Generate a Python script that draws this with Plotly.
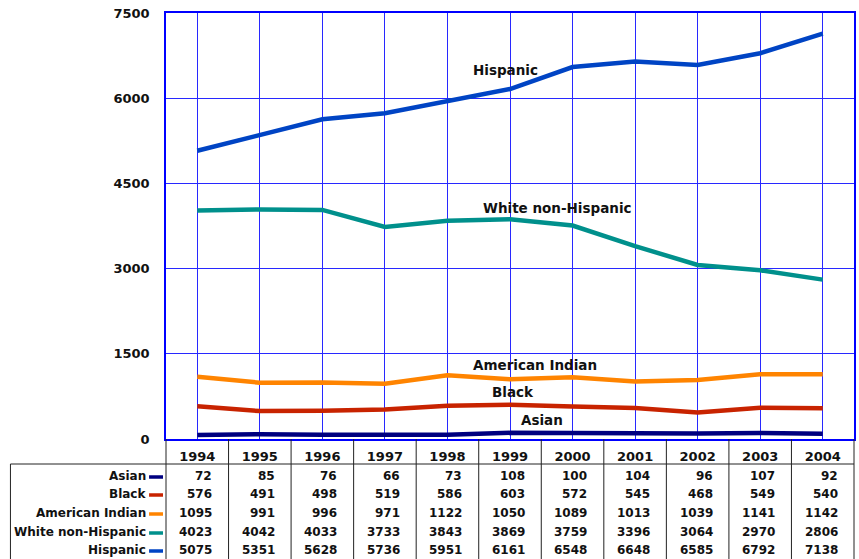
import plotly.graph_objects as go

years = ["1994", "1995", "1996", "1997", "1998", "1999", "2000", "2001", "2002", "2003", "2004"]
series_names = ["Asian", "Black", "American Indian", "White non-Hispanic", "Hispanic"]
asian = [72, 85, 76, 66, 73, 108, 100, 104, 96, 107, 92]
black = [576, 491, 498, 519, 586, 603, 572, 545, 468, 549, 540]
american_indian = [1095, 991, 996, 971, 1122, 1050, 1089, 1013, 1039, 1141, 1142]
white_non_hispanic = [4023, 4042, 4033, 3733, 3843, 3869, 3759, 3396, 3064, 2970, 2806]
hispanic = [5075, 5351, 5628, 5736, 5951, 6161, 6548, 6648, 6585, 6792, 7138]
y_ticks = [0, 1500, 3000, 4500, 6000, 7500]

values = [asian, black, american_indian, white_non_hispanic, hispanic]
colors = ["#000080", "#C82300", "#FF8400", "#00908C", "#0044C4"]
# line label positions (category index, value)
label_pos = [(5.51, 335), (5.04, 827), (5.4, 1303), (5.76, 4067), (4.92, 6496)]

W, H = 859, 559
L, R, T, B = 166, 3, 13, 120
PW, PH = W - L - R, H - T - B


def px(xp):
    return (xp - L) / PW


def py(yp):
    return (H - B - yp) / PH


FONT = "DejaVu Sans"
fig = go.Figure()
for name, vals, col in zip(series_names, values, colors):
    fig.add_trace(go.Scatter(x=years, y=vals, mode="lines", name=name,
                             line=dict(color=col, width=4.5), showlegend=False,
                             hoverinfo="skip"))

annotations = []
shapes = []
for name, (lx, ly) in zip(series_names, label_pos):
    annotations.append(dict(x=lx, y=ly, xref="x", yref="y", text="<b>%s</b>" % name,
                            showarrow=False, font=dict(family=FONT, size=13.5, color="#111")))

# table
row_y = [476, 494, 513, 532, 550]
for name, vals, col, ry in zip(series_names, values, colors, row_y):
    annotations.append(dict(x=px(148), y=py(ry), xref="paper", yref="paper", xanchor="right",
                            yanchor="middle", text="<b>%s</b>" % name, showarrow=False,
                            font=dict(family=FONT, size=12, color="#111")))
    shapes.append(dict(type="line", xref="paper", yref="paper", x0=px(149), x1=px(163),
                       y0=py(ry + 1), y1=py(ry + 1), line=dict(color=col, width=3.5)))
    for i, v in enumerate(vals):
        annotations.append(dict(x=i + 0.27, y=py(ry), xref="x", yref="paper", xanchor="right",
                                yanchor="middle", text="<b>%d</b>" % v, showarrow=False,
                                font=dict(family=FONT, size=12, color="#111")))

line_col = "#222"
# table borders
shapes.append(dict(type="line", xref="paper", yref="paper", x0=px(10), x1=px(856),
                   y0=py(464), y1=py(464), line=dict(color=line_col, width=1)))
shapes.append(dict(type="line", xref="paper", yref="paper", x0=px(10), x1=px(10),
                   y0=py(464), y1=py(560), line=dict(color=line_col, width=1)))
shapes.append(dict(type="line", xref="paper", yref="paper", x0=0, x1=0,
                   y0=0, y1=py(560), line=dict(color=line_col, width=1)))
shapes.append(dict(type="line", xref="paper", yref="paper", x0=1, x1=1,
                   y0=0, y1=py(560), line=dict(color=line_col, width=1)))
for i in range(len(years) - 1):
    shapes.append(dict(type="line", xref="x", yref="paper", x0=i + 0.5, x1=i + 0.5,
                       y0=0, y1=py(560), line=dict(color=line_col, width=1)))

fig.update_layout(
    width=W, height=H,
    margin=dict(l=L, r=R, t=T, b=B),
    paper_bgcolor="white", plot_bgcolor="white",
    annotations=annotations, shapes=shapes,
    font=dict(family=FONT, size=13, color="#111"),
)
fig.update_xaxes(type="category", range=[-0.5, 10.5], showgrid=True, gridcolor="#2828FF",
                 gridwidth=1, showline=True, linecolor="#0000FF", linewidth=2, mirror=True,
                 ticks="", tickfont=dict(family=FONT, size=13, color="#111"),
                 ticktext=["<b>%s</b>" % y for y in years], tickvals=years,
                 ticklabelstandoff=4, zeroline=False)
fig.update_yaxes(range=[0, 7500], tickvals=y_ticks, ticktext=["<b>%d</b>" % t for t in y_ticks],
                 showgrid=True, gridcolor="#2828FF", gridwidth=1, showline=True,
                 linecolor="#0000FF", linewidth=1.5, mirror=True, ticks="",
                 tickfont=dict(family=FONT, size=13, color="#111"), ticklabelstandoff=12,
                 zeroline=False)

fig.write_html("out.html", config={"displayModeBar": False},
               post_script="document.body.style.margin='0px';")
